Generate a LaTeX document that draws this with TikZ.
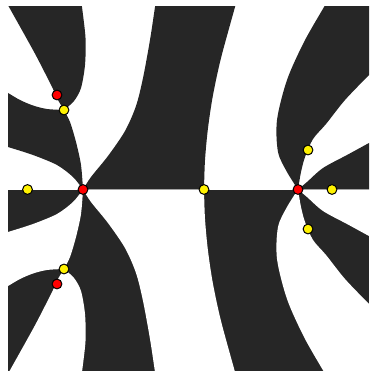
\documentclass[tikz,border=0pt]{standalone}
\definecolor{blk}{RGB}{38,38,38}
\tikzset{
  dotbase/.style={circle, draw=black, line width=1pt, minimum size=9.8pt, inner sep=0pt},
  zero/.style={dotbase, fill=red},
  crit/.style={dotbase, fill=yellow},
}
\newcommand\drawregions[1]{%
  % region A (upper-left cusp)
  \fill[#1] plot[smooth] coordinates {(8,5) (9,7) (33,50) (45,73) (53,89) (58,100) (64,110)}
     -- plot[smooth] coordinates {(64,110) (74,101) (81,88) (85,65) (85.5,38) (82,7) (81.5,5)} -- cycle;
  % region B (left)
  \fill[#1] plot[smooth] coordinates {(6,92) (8,93) (20,100) (33,105.5) (47,109) (64,110)}
     -- plot[smooth] coordinates {(64,110) (70,122) (76,142) (81,165) (83,189.5)}
     -- plot[smooth] coordinates {(83,189.5) (73,177) (57,165) (33,155) (8,147) (6,146.5)} -- cycle;
  % region D (middle)
  \fill[#1] plot[smooth] coordinates {(155.5,5) (155,7) (150,40) (143,78) (136,106) (125,131) (108,156) (91,177) (83,189.5)}
     -- (204,189.5)
     -- plot[smooth] coordinates {(204,189.5) (205,160) (208,128) (213,95) (221,58) (235,7) (235.5,5)} -- cycle;
  % region C (upper right)
  \fill[#1] plot[smooth] coordinates {(325,5) (324,7) (304,42) (287,80) (277,120) (278,152) (287,172) (298,189.5)}
     -- plot[smooth] coordinates {(298,189.5) (301,172) (305,157) (313,139) (326,124) (345,100) (369,75) (372,72)}
     -- (372,5) -- cycle;
  % region E (right, near axis)
  \fill[#1] plot[smooth] coordinates {(298,189.5) (307,182) (323,168) (347,155) (369,143) (372,141.5)}
     -- (372,189.5) -- cycle;
}
\begin{document}
\begin{tikzpicture}[x=1pt,y=-1pt]
\useasboundingbox (0,0) rectangle (369,371);
\begin{scope}
  \clip (8,7) rectangle (369,371);
  \fill[blk] (8,189.5) rectangle (369,371);
  \drawregions{blk}
  \begin{scope}[shift={(0,379)}, yscale=-1]
    \drawregions{white}
  \end{scope}
\end{scope}
% zeros
\node[zero] (z1) at (57,95) {};
\node[zero] (z2) at (83,189.5) {};
\node[zero] (z3) at (298,189.5) {};
\node[zero] (z4) at (57,284) {};
% critical points
\node[crit] (c1) at (64,110) {};
\node[crit] (c2) at (27.5,189.5) {};
\node[crit] (c3) at (204,189.5) {};
\node[crit] (c4) at (332,189.5) {};
\node[crit] (c5) at (308,150) {};
\node[crit] (c6) at (308,229) {};
\node[crit] (c7) at (64,269) {};
\end{tikzpicture}
\end{document}
